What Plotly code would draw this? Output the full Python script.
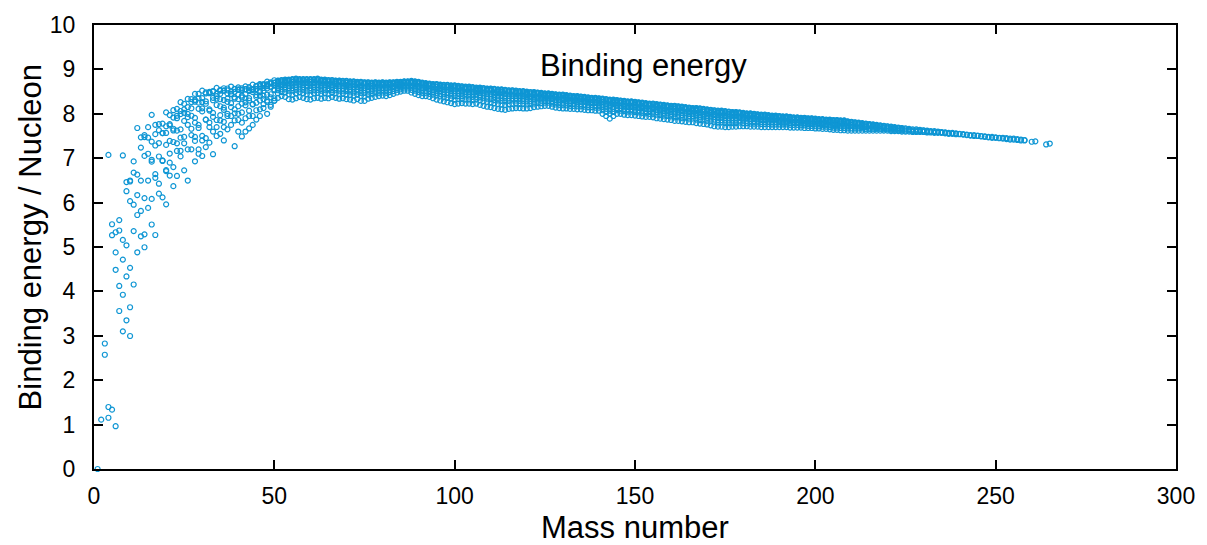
import plotly.graph_objects as go

# Binding energy per nucleon (MeV) for light nuclides
light_rows = [
    (1, [0.0]),
    (2, [1.112]),
    (3, [2.827, 2.573]),
    (4, [7.074, 1.396, 1.154]),
    (5, [5.512, 5.266, 1.336]),
    (6, [5.332, 4.878, 4.487, 0.964]),
    (7, [5.606, 5.372, 4.123, 3.559]),
    (8, [7.062, 5.160, 4.717, 3.925, 3.101]),
    (9, [6.463, 6.257, 5.038, 4.337, 3.349]),
    (10, [6.497, 6.475, 6.032, 4.531, 3.643, 2.995]),
    (11, [6.928, 6.676, 5.953, 5.358, 4.155]),
    (12, [7.680, 6.631, 6.170, 5.721, 4.881]),
    (13, [7.470, 7.239, 6.496, 5.812, 5.241]),
    (14, [7.520, 7.476, 7.052, 6.102, 5.285, 4.994]),
    (15, [7.699, 7.464, 7.100, 6.497, 5.880]),
    (16, [7.976, 7.374, 6.964, 6.922, 6.083, 5.507]),
    (17, [7.751, 7.542, 7.286, 6.640, 6.558, 5.270]),
    (18, [7.767, 7.632, 7.341, 7.038, 6.426, 6.202]),
    (19, [7.779, 7.567, 7.566, 6.949, 6.938, 6.119]),
    (20, [8.032, 7.720, 7.569, 7.299, 6.730, 6.709, 5.961]),
    (21, [7.972, 7.766, 7.738, 7.389, 7.105, 6.609, 6.900]),
    (22, [8.081, 7.916, 7.663, 7.625, 7.365, 6.800, 6.370]),
    (23, [8.112, 7.955, 7.901, 7.620, 7.335, 7.163, 6.600]),
    (24, [8.261, 8.063, 7.993, 7.649, 7.463, 7.167, 7.040]),
    (25, [8.224, 8.101, 8.021, 7.840, 7.480, 7.336, 6.727]),
    (26, [8.334, 8.150, 7.999, 7.925, 7.752, 7.198, 6.497]),
    (27, [8.332, 8.264, 8.124, 7.956, 7.663, 7.521, 7.200]),
    (28, [8.448, 8.310, 8.272, 7.907, 7.800, 7.479, 7.389, 6.930]),
    (29, [8.449, 8.348, 8.251, 8.113, 7.750, 7.681, 7.200, 7.100]),
    (30, [8.521, 8.354, 8.262, 8.123, 8.054, 7.502, 7.400, 7.050]),
    (31, [8.481, 8.458, 8.282, 8.226, 7.870, 7.867, 7.450, 7.250]),
    (32, [8.493, 8.481, 8.464, 8.100, 8.072, 7.803, 7.700, 7.350]),
    (33, [8.514, 8.498, 8.360, 8.305, 8.020, 7.930, 7.600, 7.090]),
    (34, [8.584, 8.448, 8.399, 8.340, 8.198, 7.860, 7.700, 7.500]),
    (35, [8.538, 8.520, 8.450, 8.328, 8.170, 7.970, 7.850, 7.550]),
    (36, [8.575, 8.522, 8.520, 8.310, 8.140, 8.090, 7.820, 7.700, 7.400]),
    (37, [8.570, 8.527, 8.460, 8.340, 8.270, 8.000, 7.950, 7.650]),
    (38, [8.614, 8.505, 8.450, 8.438, 8.240, 8.150, 7.950, 7.750]),
    (39, [8.563, 8.557, 8.494, 8.370, 8.340, 8.100, 8.010, 7.850, 7.270]),
    (40, [8.595, 8.551, 8.538, 8.430, 8.330, 8.170, 8.000, 7.860, 7.600]),
    (41, [8.576, 8.546, 8.534, 8.410, 8.369, 8.230, 8.030, 7.800, 7.490]),
    (42, [8.617, 8.556, 8.551, 8.445, 8.350, 8.259, 8.190, 7.900, 7.600]),
    (43, [8.601, 8.576, 8.531, 8.510, 8.353, 8.300, 8.070, 7.950, 7.670]),
    (44, [8.658, 8.557, 8.547, 8.534, 8.490, 8.220, 8.210, 7.950, 7.750]),
    (45, [8.631, 8.619, 8.556, 8.555, 8.420, 8.380, 8.250, 8.080, 7.870]),
    (46, [8.669, 8.656, 8.622, 8.518, 8.486, 8.410, 8.300, 8.100, 7.950]),
    (47, [8.665, 8.661, 8.639, 8.582, 8.515, 8.410, 8.330, 8.220, 8.130]),
    (48, [8.723, 8.666, 8.656, 8.623, 8.572, 8.430, 8.300, 8.270, 8.000]),
    (49, [8.711, 8.686, 8.683, 8.613, 8.595, 8.440, 8.370, 8.200, 8.160]),
    (50, [8.756, 8.701, 8.696, 8.634, 8.550, 8.533, 8.350, 8.300, 8.290]),
]

# Heavier nuclides: binding energy per nucleon in units of 0.01 MeV
band_rows = [
    (51, [875, 874, 872, 870, 867, 863, 858, 853, 846, 836]),
    (52, [876, 875, 873, 871, 868, 865, 861, 855, 849, 840]),
    (53, [877, 876, 874, 872, 869, 865, 860, 855, 848, 838]),
    (54, [877, 876, 874, 871, 868, 863, 858, 852, 844, 833]),
    (55, [878, 877, 875, 872, 868, 864, 858, 852, 843, 832]),
    (56, [879, 878, 876, 873, 870, 865, 860, 854, 846, 835]),
    (57, [878, 877, 875, 873, 870, 866, 861, 855, 848, 838]),
    (58, [878, 877, 875, 873, 869, 865, 860, 854, 846, 836]),
    (59, [878, 877, 875, 872, 869, 864, 859, 852, 844, 833]),
    (60, [878, 877, 875, 872, 868, 864, 858, 852, 843, 832]),
    (61, [878, 877, 875, 872, 869, 865, 860, 853, 846, 835]),
    (62, [879, 878, 876, 873, 870, 866, 861, 854, 847, 836]),
    (63, [877, 876, 874, 871, 868, 864, 859, 852, 845, 834]),
    (64, [877, 876, 874, 872, 868, 864, 859, 854, 846, 836]),
    (65, [876, 875, 873, 871, 867, 863, 858, 853, 845, 835]),
    (66, [876, 875, 873, 871, 868, 864, 860, 854, 847, 838]),
    (67, [875, 874, 872, 870, 867, 863, 858, 853, 846, 836]),
    (68, [875, 874, 872, 870, 866, 862, 857, 852, 844, 834]),
    (69, [874, 873, 871, 869, 866, 862, 857, 852, 845, 835]),
    (70, [874, 873, 871, 869, 865, 861, 856, 851, 843, 833]),
    (71, [873, 872, 870, 868, 864, 860, 855, 850, 842, 832]),
    (72, [873, 872, 870, 867, 864, 860, 855, 848, 841, 830]),
    (73, [872, 871, 869, 867, 864, 860, 855, 850, 843, 833]),
    (74, [872, 871, 869, 866, 863, 859, 854, 847, 840, 829]),
    (75, [871, 870, 868, 866, 862, 858, 853, 847, 839, 829]),
    (76, [871, 870, 868, 866, 863, 860, 855, 850, 843, 834]),
    (77, [870, 869, 868, 866, 863, 859, 855, 851, 844, 836]),
    (78, [871, 870, 869, 867, 864, 861, 857, 852, 846, 838]),
    (79, [870, 869, 868, 866, 864, 861, 857, 853, 847, 840]),
    (80, [871, 870, 869, 867, 865, 862, 858, 854, 848, 841]),
    (81, [870, 869, 868, 866, 864, 861, 857, 853, 847, 840]),
    (82, [871, 870, 869, 867, 865, 862, 859, 854, 849, 842]),
    (83, [871, 870, 869, 868, 866, 863, 860, 856, 851, 845]),
    (84, [872, 871, 870, 869, 867, 865, 862, 858, 854, 848]),
    (85, [872, 871, 870, 869, 867, 865, 863, 859, 855, 850]),
    (86, [873, 872, 872, 870, 869, 866, 864, 861, 857, 852]),
    (87, [873, 872, 872, 870, 869, 866, 864, 861, 857, 852]),
    (88, [874, 873, 872, 871, 869, 866, 863, 859, 854, 848]),
    (89, [873, 872, 871, 869, 867, 864, 861, 857, 852, 845]),
    (90, [872, 871, 870, 868, 866, 863, 859, 855, 849, 842]),
    (91, [870, 869, 868, 866, 864, 861, 857, 853, 847, 840]),
    (92, [869, 868, 867, 865, 863, 860, 857, 852, 847, 840]),
    (93, [868, 867, 866, 864, 862, 859, 855, 851, 845, 838]),
    (94, [867, 866, 865, 863, 860, 857, 853, 849, 843, 835]),
    (95, [867, 866, 865, 862, 860, 856, 852, 847, 841, 832]),
    (96, [866, 865, 863, 861, 858, 855, 851, 845, 839, 830]),
    (97, [865, 864, 862, 860, 857, 854, 849, 844, 837, 828]),
    (98, [865, 864, 862, 860, 857, 853, 848, 843, 836, 826]),
    (99, [864, 863, 861, 859, 856, 852, 847, 841, 834, 824]),
    (100, [864, 863, 861, 859, 855, 851, 846, 840, 832, 822]),
    (101, [863, 862, 860, 858, 855, 851, 846, 840, 833, 823]),
    (102, [862, 861, 859, 857, 854, 850, 846, 840, 833, 824]),
    (103, [861, 860, 858, 856, 853, 849, 845, 839, 832, 823]),
    (104, [861, 860, 858, 856, 853, 849, 845, 839, 832, 823]),
    (105, [860, 859, 857, 855, 852, 848, 844, 838, 831, 822]),
    (106, [859, 858, 856, 854, 851, 848, 844, 838, 832, 823]),
    (107, [859, 858, 856, 854, 851, 847, 842, 837, 830, 820]),
    (108, [858, 857, 855, 853, 850, 846, 841, 835, 828, 818]),
    (109, [857, 856, 854, 852, 848, 844, 839, 834, 826, 816]),
    (110, [857, 856, 854, 852, 848, 844, 839, 833, 825, 815]),
    (111, [856, 855, 853, 850, 847, 843, 838, 831, 824, 813]),
    (112, [855, 854, 852, 849, 846, 841, 836, 830, 822, 811]),
    (113, [855, 854, 852, 849, 846, 841, 836, 829, 821, 810]),
    (114, [854, 853, 851, 848, 845, 840, 835, 828, 820, 809]),
    (115, [853, 852, 850, 848, 844, 840, 835, 829, 821, 811]),
    (116, [853, 852, 850, 848, 844, 840, 835, 830, 822, 812]),
    (117, [852, 851, 849, 847, 844, 840, 835, 830, 823, 813]),
    (118, [851, 850, 848, 846, 843, 839, 835, 829, 822, 813]),
    (119, [851, 850, 848, 846, 843, 839, 834, 829, 822, 812]),
    (120, [850, 849, 847, 845, 842, 838, 834, 828, 821, 812]),
    (121, [849, 848, 846, 844, 841, 838, 834, 828, 822, 813]),
    (122, [849, 848, 847, 845, 842, 838, 834, 830, 823, 815]),
    (123, [848, 847, 846, 844, 841, 838, 834, 830, 824, 816]),
    (124, [847, 846, 845, 843, 841, 838, 834, 830, 824, 817]),
    (125, [846, 845, 844, 842, 840, 837, 834, 830, 825, 818]),
    (126, [846, 845, 844, 842, 840, 837, 834, 830, 825, 818]),
    (127, [845, 844, 843, 841, 839, 836, 833, 828, 823, 816]),
    (128, [844, 843, 842, 840, 838, 835, 831, 827, 821, 814]),
    (129, [843, 842, 841, 839, 837, 834, 830, 826, 820, 813]),
    (130, [843, 842, 841, 839, 836, 833, 830, 825, 820, 812]),
    (131, [842, 841, 840, 838, 836, 833, 829, 825, 819, 812]),
    (132, [841, 840, 839, 837, 835, 832, 828, 824, 818, 811]),
    (133, [840, 839, 838, 836, 834, 831, 828, 823, 818, 811]),
    (134, [840, 839, 838, 836, 834, 831, 827, 823, 817, 810]),
    (135, [839, 838, 837, 835, 833, 830, 827, 822, 817, 810]),
    (136, [838, 837, 836, 834, 832, 829, 826, 821, 816, 809]),
    (137, [837, 836, 835, 833, 831, 828, 825, 820, 815, 808]),
    (138, [836, 835, 834, 832, 830, 827, 824, 820, 815, 808]),
    (139, [836, 835, 834, 832, 830, 827, 824, 819, 814, 807]),
    (140, [835, 834, 833, 831, 829, 826, 823, 819, 814, 807]),
    (141, [834, 833, 832, 830, 827, 823, 819, 815, 808, 800]),
    (142, [833, 832, 830, 828, 825, 821, 817, 811, 804, 795]),
    (143, [832, 831, 829, 826, 823, 819, 814, 807, 800, 789]),
    (144, [832, 831, 829, 827, 824, 821, 816, 811, 804, 795]),
    (145, [831, 830, 829, 827, 824, 821, 818, 813, 808, 800]),
    (146, [830, 829, 828, 826, 824, 821, 817, 813, 807, 800]),
    (147, [829, 828, 827, 825, 822, 819, 816, 811, 806, 798]),
    (148, [828, 827, 826, 824, 821, 818, 815, 810, 805, 797]),
    (149, [828, 827, 826, 824, 821, 818, 815, 810, 805, 797]),
    (150, [827, 826, 825, 823, 820, 817, 814, 809, 804, 796]),
    (151, [826, 825, 824, 822, 819, 816, 813, 808, 803, 795]),
    (152, [825, 824, 823, 821, 818, 815, 812, 807, 802, 794]),
    (153, [824, 823, 822, 820, 817, 814, 811, 806, 801, 793]),
    (154, [823, 822, 821, 819, 817, 814, 810, 806, 800, 793]),
    (155, [823, 822, 821, 819, 816, 813, 810, 805, 800, 792]),
    (156, [822, 821, 820, 818, 815, 812, 808, 804, 798, 790]),
    (157, [821, 820, 819, 817, 814, 811, 807, 803, 797, 789]),
    (158, [820, 819, 818, 816, 813, 810, 806, 802, 796, 788]),
    (159, [819, 818, 817, 815, 812, 809, 805, 801, 795, 787]),
    (160, [818, 817, 816, 814, 811, 808, 804, 800, 794, 786]),
    (161, [818, 817, 816, 814, 811, 807, 803, 799, 792, 784]),
    (162, [817, 816, 815, 813, 810, 807, 803, 798, 792, 784]),
    (163, [816, 815, 814, 812, 809, 806, 802, 797, 791, 783]),
    (164, [815, 814, 813, 811, 808, 805, 801, 796, 790, 782]),
    (165, [814, 813, 812, 810, 807, 804, 800, 795, 789, 781]),
    (166, [813, 812, 811, 809, 806, 803, 799, 795, 789, 781]),
    (167, [813, 812, 811, 809, 806, 802, 798, 794, 787, 779]),
    (168, [812, 811, 810, 808, 805, 801, 797, 793, 786, 778]),
    (169, [811, 810, 809, 807, 804, 800, 796, 792, 785, 777]),
    (170, [810, 809, 808, 806, 803, 799, 795, 791, 784, 776]),
    (171, [809, 808, 807, 804, 802, 798, 794, 789, 783, 774]),
    (172, [808, 807, 805, 803, 800, 797, 793, 787, 781, 772]),
    (173, [807, 806, 804, 802, 799, 796, 792, 786, 780, 771]),
    (174, [807, 806, 804, 802, 799, 796, 792, 786, 780, 771]),
    (175, [806, 805, 803, 801, 798, 795, 791, 785, 779, 770]),
    (176, [805, 804, 803, 800, 798, 794, 790, 785, 779, 770]),
    (177, [804, 803, 802, 800, 797, 794, 790, 785, 779, 771]),
    (178, [804, 803, 802, 800, 797, 794, 790, 785, 779, 771]),
    (179, [803, 802, 801, 799, 796, 793, 790, 785, 780, 772]),
    (180, [802, 801, 800, 798, 796, 793, 789, 785, 779, 772]),
    (181, [801, 800, 799, 797, 795, 792, 789, 784, 779, 772]),
    (182, [801, 800, 799, 797, 795, 792, 788, 784, 778, 771]),
    (183, [800, 799, 798, 796, 794, 791, 788, 783, 778, 771]),
    (184, [799, 798, 797, 795, 793, 790, 787, 783, 778, 771]),
    (185, [798, 797, 796, 794, 792, 789, 786, 782, 777, 770]),
    (186, [798, 797, 796, 794, 792, 789, 786, 782, 777, 770]),
    (187, [797, 796, 795, 793, 791, 789, 785, 782, 777, 770]),
    (188, [796, 795, 794, 793, 791, 788, 785, 781, 776, 770]),
    (189, [796, 795, 794, 793, 791, 788, 785, 781, 776, 770]),
    (190, [795, 794, 793, 792, 790, 787, 784, 781, 776, 770]),
    (191, [794, 793, 792, 791, 789, 787, 784, 780, 776, 770]),
    (192, [794, 793, 792, 791, 789, 787, 784, 780, 776, 770]),
    (193, [793, 792, 791, 790, 788, 786, 783, 779, 775, 769]),
    (194, [792, 791, 790, 789, 787, 785, 782, 779, 775, 769]),
    (195, [792, 791, 790, 789, 787, 785, 782, 779, 775, 769]),
    (196, [791, 790, 789, 788, 786, 784, 782, 778, 774, 769]),
    (197, [791, 790, 789, 788, 786, 784, 781, 778, 774, 768]),
    (198, [790, 789, 788, 787, 785, 783, 781, 777, 773, 768]),
    (199, [790, 789, 788, 787, 785, 783, 781, 777, 773, 768]),
    (200, [789, 788, 787, 786, 784, 782, 780, 776, 772, 767]),
    (201, [788, 787, 787, 785, 784, 781, 779, 776, 772, 767]),
    (202, [788, 787, 786, 785, 783, 781, 779, 775, 771, 766]),
    (203, [787, 786, 786, 784, 783, 780, 778, 775, 771, 766]),
    (204, [787, 786, 785, 784, 782, 780, 778, 774, 770, 765]),
    (205, [786, 785, 784, 783, 781, 779, 777, 773, 769, 764]),
    (206, [786, 785, 784, 783, 781, 779, 777, 773, 769, 764]),
    (207, [785, 784, 783, 782, 780, 778, 776, 772, 768, 763]),
    (208, [785, 784, 783, 782, 780, 778, 776, 772, 768, 763]),
    (209, [783, 782, 782, 780, 779, 776, 774, 771, 767, 762]),
    (210, [782, 781, 780, 778, 775, 772, 767, 762]),
    (211, [781, 780, 779, 777, 774, 771, 767, 762]),
    (212, [780, 779, 778, 776, 774, 771, 767, 762]),
    (213, [779, 778, 777, 775, 773, 770, 767, 762]),
    (214, [778, 777, 776, 774, 772, 770, 766, 762]),
    (215, [777, 776, 775, 774, 772, 769, 766, 762]),
    (216, [776, 775, 774, 773, 771, 769, 766, 762]),
    (217, [775, 774, 773, 772, 770, 768, 766, 762]),
    (218, [774, 773, 771, 769, 766, 762]),
    (219, [773, 772, 770, 768, 765, 762]),
    (220, [772, 771, 769, 767, 765, 762]),
    (221, [771, 770, 768, 766, 764, 761]),
    (222, [770, 769, 768, 766, 764, 761]),
    (223, [769, 768, 767, 765, 763, 761]),
    (224, [768, 767, 766, 764, 762, 760]),
    (225, [767, 765, 762, 760]),
    (226, [766, 764, 762, 760]),
    (227, [765, 763, 761, 759]),
    (228, [765, 763, 761, 759]),
    (229, [764, 762, 761, 759]),
    (230, [763, 762, 760, 759]),
    (231, [762, 761, 759, 758]),
    (232, [761, 760, 758]),
    (233, [761, 759, 757]),
    (234, [760, 759, 757]),
    (235, [759, 758, 757]),
    (236, [758, 757, 756]),
    (237, [757, 756, 755]),
    (238, [757, 756, 755]),
    (239, [756, 755, 754]),
    (240, [755, 754]),
    (241, [754, 753]),
    (242, [753, 752]),
    (243, [752, 751]),
    (244, [752, 750]),
    (245, [751, 750]),
    (246, [750, 749]),
    (247, [749, 748]),
    (248, [748, 747]),
    (249, [748, 746]),
    (250, [747, 746]),
    (251, [746, 745]),
    (252, [746, 744]),
    (253, [745, 743]),
    (254, [744, 742]),
    (255, [744, 742]),
    (256, [743, 741]),
    (257, [742, 740]),
    (258, [741, 740]),
    (260, [737]),
    (261, [738]),
    (264, [731]),
    (265, [733]),
]

x_ticks = [0, 50, 100, 150, 200, 250, 300]
y_ticks = [0, 1, 2, 3, 4, 5, 6, 7, 8, 9, 10]
x_title = "Mass number"
y_title = "Binding energy / Nucleon"
series_name = "Binding energy"

xs, ys = [], []
for a, vals in light_rows:
    for v in vals:
        xs.append(a)
        ys.append(v)
for a, vals in band_rows:
    for v in vals:
        xs.append(a)
        ys.append(v / 100.0)

FONT = "Liberation Sans, Arial, Helvetica, sans-serif"
COLOR = "#0f96d4"
TITLE_SIZE = 31

fig = go.Figure()
fig.add_trace(go.Scatter(
    x=xs, y=ys, mode="markers", name=series_name,
    marker=dict(symbol="circle-open", size=5, color=COLOR,
                line=dict(width=1.2, color=COLOR)),
    cliponaxis=False, showlegend=False,
))

axis_common = dict(
    showgrid=False, zeroline=False, showline=True, linecolor="black",
    linewidth=2, mirror="allticks", ticks="inside", ticklen=9,
    tickwidth=1.5, tickcolor="black",
    tickfont=dict(family=FONT, size=23, color="black"),
)

fig.update_layout(
    width=1207, height=545,
    margin=dict(l=94, r=29, t=16, b=76),
    paper_bgcolor="white", plot_bgcolor="white",
    font=dict(family=FONT, color="black"),
    xaxis=dict(range=[0, 300], tickvals=x_ticks, ticklabelstandoff=5,
               **axis_common),
    yaxis=dict(range=[0, 10], tickvals=y_ticks, ticklabelstandoff=12,
               **axis_common),
    annotations=[
        dict(text=series_name, xref="paper", yref="paper",
             x=0.508, y=0.909, xanchor="center", yanchor="middle",
             showarrow=False,
             font=dict(family=FONT, size=TITLE_SIZE, color="black")),
        dict(text=x_title, xref="paper", yref="paper",
             x=0.5, y=-0.131, xanchor="center", yanchor="middle",
             showarrow=False,
             font=dict(family=FONT, size=TITLE_SIZE, color="black")),
        dict(text=y_title, xref="paper", yref="paper", textangle=-90,
             x=-0.0590, y=0.522, xanchor="center", yanchor="middle",
             showarrow=False,
             font=dict(family=FONT, size=TITLE_SIZE, color="black")),
    ],
)

fig.write_html("out.html")
